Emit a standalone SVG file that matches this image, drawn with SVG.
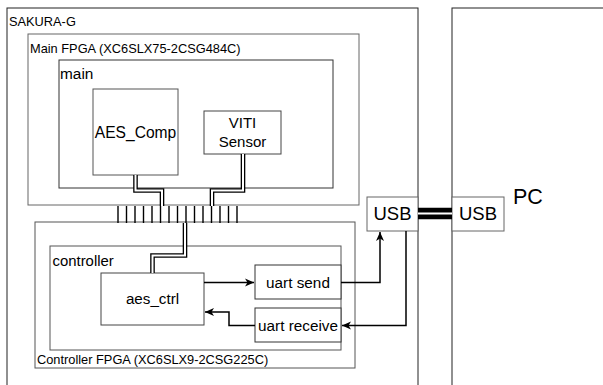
<svg xmlns="http://www.w3.org/2000/svg" width="603" height="385" viewBox="0 0 603 385">
<style>
text{font-family:"Liberation Sans",Arial,sans-serif;fill:#000}
.box{fill:#fff;stroke-width:1}
.lbl{font-size:12.8px}
.mid{text-anchor:middle}
.wire{fill:none;stroke:#000;stroke-width:1.5}
.linkO{fill:none;stroke:#000;stroke-width:4.6}
.linkI{fill:none;stroke:#fff;stroke-width:2}
.pin{stroke:#000;stroke-width:1.4}
</style>
<defs>
<marker id="ah" markerUnits="userSpaceOnUse" markerWidth="10" markerHeight="10" refX="9" refY="5" orient="auto">
<path d="M0,1 L9,5 L0,9 L2.5,5 z" fill="#000"/>
</marker>
</defs>
<rect width="603" height="385" fill="#fff"/>
<g id="sakura">
<rect class="box" x="7" y="8" width="411" height="390" stroke="#222"/>
<text class="lbl" x="9" y="26">SAKURA-G</text>
</g>
<g id="pc">
<rect class="box" x="452" y="8" width="160" height="390" stroke="#222"/>
<text x="513" y="204" style="font-size:21.5px">PC</text>
</g>
<g id="mainfpga">
<rect class="box" x="28" y="34" width="331" height="171" stroke="#666"/>
<text class="lbl" x="30" y="52.5">Main FPGA (XC6SLX75-2CSG484C)</text>
</g>
<g id="main">
<rect class="box" x="59" y="60" width="274" height="128" stroke="#333"/>
<text x="60" y="79" style="font-size:15.4px">main</text>
</g>
<g id="aescomp">
<rect class="box" x="93" y="89" width="85" height="86" stroke="#555"/>
<text class="mid" x="135.5" y="138" style="font-size:15.6px">AES_Comp</text>
</g>
<g id="viti">
<rect class="box" x="204" y="111" width="77" height="43" stroke="#444"/>
<text class="mid" x="242.5" y="128.3" style="font-size:15px">VITI</text>
<text class="mid" x="242.5" y="147" style="font-size:15px">Sensor</text>
</g>
<g id="ctrlfpga">
<rect class="box" x="35" y="222" width="320" height="146" stroke="#555"/>
<text class="lbl" x="37" y="363.5">Controller FPGA (XC6SLX9-2CSG225C)</text>
</g>
<g id="controller">
<rect class="box" x="50" y="246" width="291" height="104" stroke="#555"/>
<text x="52.5" y="265.5" style="font-size:14.9px">controller</text>
</g>
<g id="aesctrl">
<rect class="box" x="101" y="273" width="103" height="52" stroke="#444"/>
<text class="mid" x="152.5" y="304" style="font-size:15.2px">aes_ctrl</text>
</g>
<g id="uartsend">
<rect class="box" x="255" y="265" width="86" height="34" stroke="#333"/>
<text class="mid" x="298" y="287.5" style="font-size:15.3px">uart send</text>
</g>
<g id="uartrecv">
<rect class="box" x="255" y="308" width="86" height="34" stroke="#333"/>
<text class="mid" x="298" y="330.5" style="font-size:15.3px">uart receive</text>
</g>
<g id="usb1">
<rect class="box" x="367" y="197" width="51" height="34" stroke="#666"/>
<text class="mid" x="392.5" y="220" style="font-size:18.5px">USB</text>
</g>
<g id="usb2">
<rect class="box" x="452" y="197" width="52" height="34" stroke="#666"/>
<text class="mid" x="478" y="220" style="font-size:18.5px">USB</text>
</g>
<g id="pins">
<line class="pin" x1="118" y1="206" x2="118" y2="223"/>
<line class="pin" x1="126.5" y1="206" x2="126.5" y2="223"/>
<line class="pin" x1="135" y1="206" x2="135" y2="223"/>
<line class="pin" x1="143.5" y1="206" x2="143.5" y2="223"/>
<line class="pin" x1="152" y1="206" x2="152" y2="223"/>
<line class="pin" x1="160.5" y1="206" x2="160.5" y2="223"/>
<line class="pin" x1="169" y1="206" x2="169" y2="223"/>
<line class="pin" x1="177.5" y1="206" x2="177.5" y2="223"/>
<line class="pin" x1="186" y1="206" x2="186" y2="223"/>
<line class="pin" x1="194.5" y1="206" x2="194.5" y2="223"/>
<line class="pin" x1="203" y1="206" x2="203" y2="223"/>
<line class="pin" x1="211.5" y1="206" x2="211.5" y2="223"/>
<line class="pin" x1="220" y1="206" x2="220" y2="223"/>
<line class="pin" x1="228.5" y1="206" x2="228.5" y2="223"/>
<line class="pin" x1="237" y1="206" x2="237" y2="223"/>
</g>
<g id="connectors">
<path class="linkO" d="M135.5 175 V190.5 H162 V206"/>
<path class="linkI" d="M135.5 175 V190.5 H162 V206"/>
<path class="linkO" d="M243 154 V190.5 H212 V206"/>
<path class="linkI" d="M243 154 V190.5 H212 V206"/>
<path class="linkO" d="M185 223 V255.5 H152.5 V273"/>
<path class="linkI" d="M185 223 V255.5 H152.5 V273"/>
<line x1="418" y1="213.5" x2="452" y2="213.5" stroke="#000" stroke-width="11.6"/>
<line x1="418" y1="213.5" x2="452" y2="213.5" stroke="#fff" stroke-width="2"/>
<path class="wire" d="M204 282.5 H254" marker-end="url(#ah)"/>
<path class="wire" d="M255 325.5 H229 V312 H205" marker-end="url(#ah)"/>
<path class="wire" d="M341 282.5 H380 V232" marker-end="url(#ah)"/>
<path class="wire" d="M406 231 V325.5 H342" marker-end="url(#ah)"/>
</g>
</svg>
